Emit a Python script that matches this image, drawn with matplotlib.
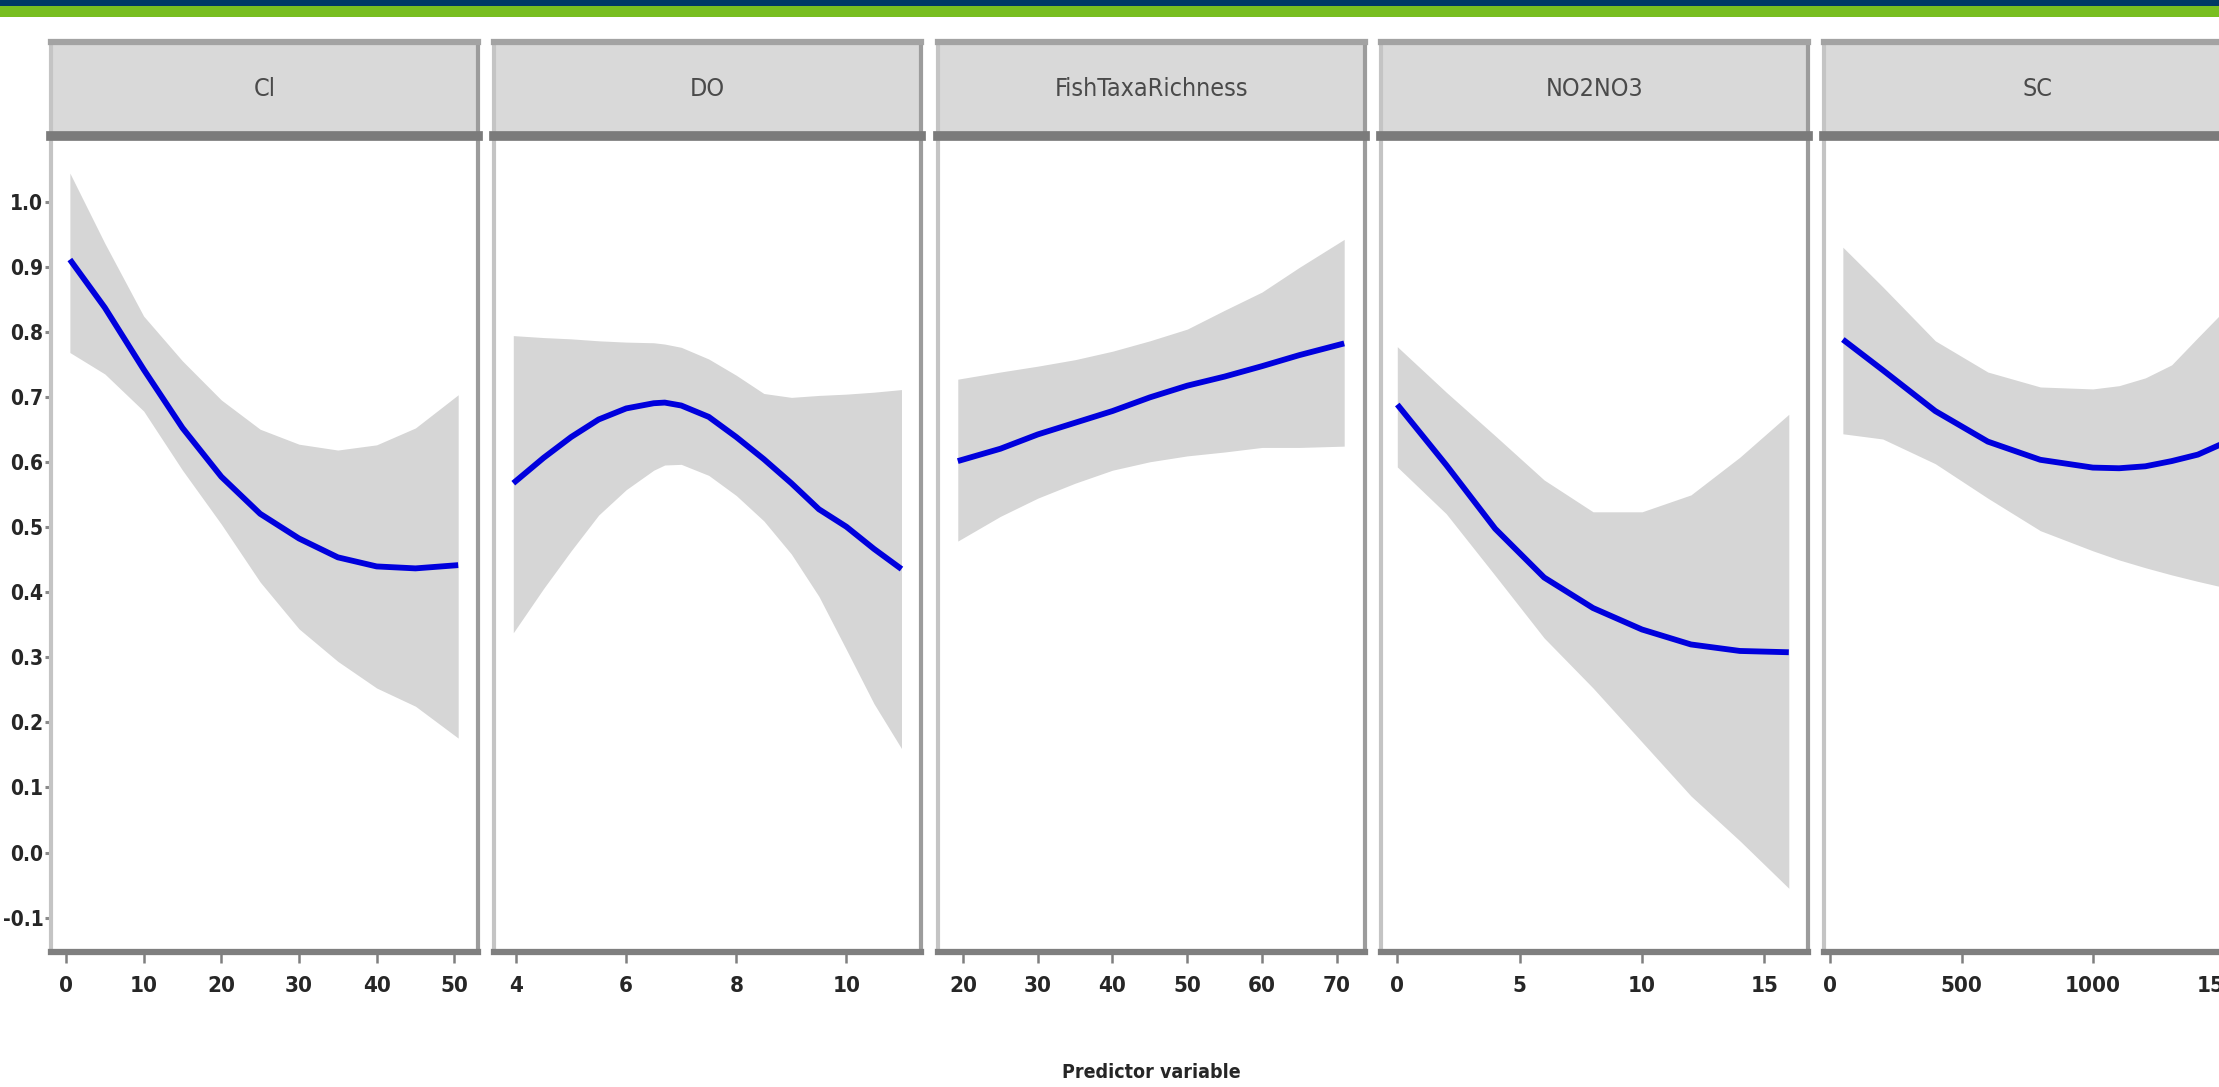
import matplotlib
matplotlib.use("Agg")
import matplotlib.pyplot as plt
from matplotlib.patches import Rectangle

plt.rcParams['font.family'] = ['DejaVu Sans']
plt.rcParams['font.stretch'] = 'condensed'

# Data (smooth fit + confidence band per predictor)
panels = ["Cl", "DO", "FishTaxaRichness", "NO2NO3", "SC"]

cl_x = [0.5, 5, 10, 15, 20, 25, 30, 35, 40, 45, 50.5]
cl_fit = [0.912, 0.838, 0.743, 0.653, 0.578, 0.521, 0.483, 0.454, 0.440, 0.437, 0.442]
cl_hi = [1.045, 0.937, 0.825, 0.756, 0.696, 0.651, 0.628, 0.619, 0.627, 0.653, 0.704]
cl_lo = [0.769, 0.736, 0.679, 0.588, 0.505, 0.416, 0.344, 0.294, 0.253, 0.225, 0.176]

do_x = [3.95, 4.5, 5, 5.5, 6, 6.5, 6.7, 7, 7.5, 8, 8.5, 9, 9.5, 10, 10.5, 11]
do_fit = [0.568, 0.607, 0.639, 0.666, 0.683, 0.691, 0.692, 0.6875, 0.670, 0.639,
          0.605, 0.568, 0.528, 0.501, 0.467, 0.436]
do_hi = [0.795, 0.792, 0.790, 0.787, 0.785, 0.784, 0.782, 0.777, 0.759, 0.734,
         0.706, 0.700, 0.703, 0.705, 0.708, 0.712]
do_lo = [0.338, 0.406, 0.464, 0.519, 0.558, 0.588, 0.596, 0.597, 0.580, 0.549,
         0.510, 0.459, 0.394, 0.312, 0.229, 0.160]

ftr_x = [19.3, 25, 30, 35, 40, 45, 50, 55, 60, 65, 71]
ftr_fit = [0.602, 0.621, 0.643, 0.661, 0.679, 0.700, 0.718, 0.732, 0.748, 0.765, 0.783]
ftr_hi = [0.728, 0.739, 0.748, 0.758, 0.771, 0.787, 0.805, 0.834, 0.862, 0.900, 0.943]
ftr_lo = [0.479, 0.517, 0.545, 0.568, 0.588, 0.601, 0.610, 0.616, 0.623, 0.623, 0.625]

no3_x = [0, 2, 4, 6, 8, 10, 12, 14, 16]
no3_fit = [0.689, 0.596, 0.498, 0.423, 0.376, 0.343, 0.320, 0.310, 0.308]
no3_hi = [0.778, 0.708, 0.641, 0.573, 0.524, 0.524, 0.550, 0.608, 0.674]
no3_lo = [0.593, 0.521, 0.426, 0.330, 0.253, 0.170, 0.087, 0.018, -0.055]

sc_x = [48, 200, 400, 600, 800, 1000, 1100, 1200, 1300, 1400, 1550]
sc_fit = [0.789, 0.742, 0.679, 0.632, 0.604, 0.592, 0.591, 0.594, 0.602, 0.612, 0.639]
sc_hi = [0.931, 0.870, 0.787, 0.739, 0.716, 0.713, 0.718, 0.730, 0.750, 0.792, 0.854]
sc_lo = [0.644, 0.636, 0.598, 0.545, 0.495, 0.464, 0.450, 0.438, 0.427, 0.417, 0.403]

series = [
    (cl_x, cl_fit, cl_hi, cl_lo),
    (do_x, do_fit, do_hi, do_lo),
    (ftr_x, ftr_fit, ftr_hi, ftr_lo),
    (no3_x, no3_fit, no3_hi, no3_lo),
    (sc_x, sc_fit, sc_hi, sc_lo),
]

x_ticks = [
    [0, 10, 20, 30, 40, 50],
    [4, 6, 8, 10],
    [20, 30, 40, 50, 60, 70],
    [0, 5, 10, 15],
    [0, 500, 1000, 1500],
]
x_limits = [(-1.93, 53.05), (3.605, 11.36), (16.6, 73.73), (-0.67, 16.78), (-23, 1603)]
y_ticks = [-0.1, 0.0, 0.1, 0.2, 0.3, 0.4, 0.5, 0.6, 0.7, 0.8, 0.9, 1.0]
y_limits = (-0.153, 1.102)

W, H = 2219, 1087
fig = plt.figure(figsize=(W / 100, H / 100), dpi=100)
fig.patch.set_facecolor('white')

# header bands
fig.patches.append(Rectangle((0, 1 - 6 / H), 1, 6 / H, transform=fig.transFigure,
                             facecolor='#003865', edgecolor='none'))
fig.patches.append(Rectangle((0, 1 - 17 / H), 1, 11 / H, transform=fig.transFigure,
                             facecolor='#78be20', edgecolor='none'))

left0, step, width = 51, 443.3, 427
top, bottom = 136, 952
strip_top = 42

for i, name in enumerate(panels):
    xs, fit, hi, lo = series[i]
    l = left0 + i * step
    ax = fig.add_axes([l / W, 1 - bottom / H, width / W, (bottom - top) / H])
    ax.fill_between(xs, lo, hi, color='#d6d6d6', linewidth=0)
    ax.plot(xs, fit, color='#0000dd', linewidth=4.2, solid_capstyle='butt')
    ax.set_xlim(*x_limits[i])
    ax.set_ylim(*y_limits)
    ax.set_xticks(x_ticks[i])
    ax.set_xticklabels([str(t) for t in x_ticks[i]])
    ax.tick_params(axis='x', length=8, width=1.8, color='#7f7f7f', pad=9,
                   labelsize=16, labelcolor='#262626')
    if i == 0:
        ax.set_yticks(y_ticks)
        ax.set_yticklabels([f"{t:.1f}" for t in y_ticks])
        ax.tick_params(axis='y', length=4, width=2.2, color='#8a8a8a', pad=1.5,
                       labelsize=15, labelcolor='#262626')
    else:
        ax.set_yticks([])
    for lab in ax.get_xticklabels() + ax.get_yticklabels():
        lab.set_fontweight('bold')
    ax.spines['top'].set_visible(False)
    ax.spines['left'].set_color('#c4c4c4')
    ax.spines['left'].set_linewidth(3)
    ax.spines['right'].set_color('#9c9c9c')
    ax.spines['right'].set_linewidth(3)
    ax.spines['bottom'].set_color('#7f7f7f')
    ax.spines['bottom'].set_linewidth(4.5)

    # facet strip
    sax = fig.add_axes([l / W, 1 - top / H, width / W, (top - strip_top) / H])
    sax.set_facecolor('#d9d9d9')
    sax.set_xticks([])
    sax.set_yticks([])
    sax.spines['top'].set_color('#a3a3a3')
    sax.spines['top'].set_linewidth(4.5)
    sax.spines['bottom'].set_color('#7b7b7b')
    sax.spines['bottom'].set_linewidth(7)
    sax.spines['left'].set_color('#c4c4c4')
    sax.spines['left'].set_linewidth(3)
    sax.spines['right'].set_color('#9c9c9c')
    sax.spines['right'].set_linewidth(3)
    sax.text(0.5, 0.5, name, transform=sax.transAxes, ha='center', va='center',
             fontsize=18, color='#4a4a4a')

fig.text(1151 / W, 1 - 1073 / H, "Predictor variable", ha='center', va='center',
         fontsize=14, fontweight='bold', color='#262626')

fig.savefig("out.png", dpi=100)
